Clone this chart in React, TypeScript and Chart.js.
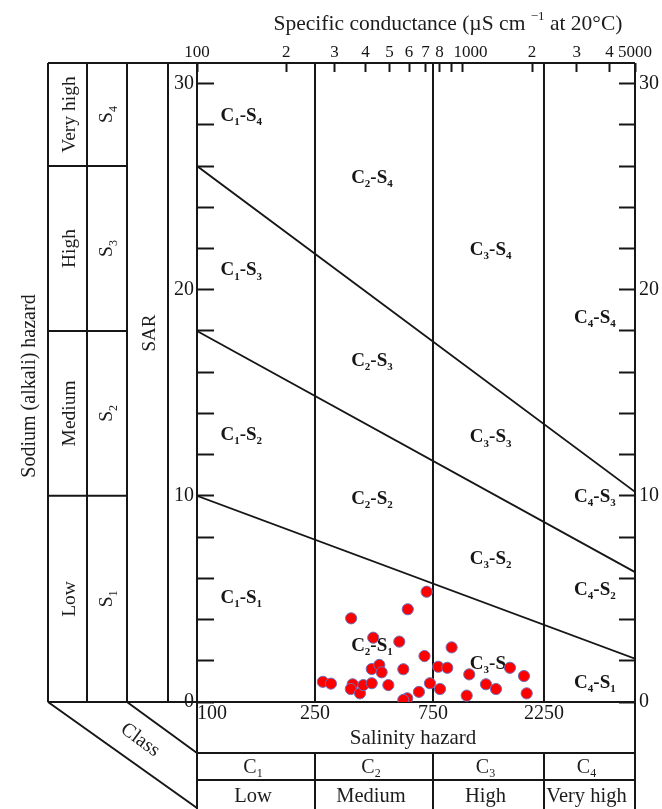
import React, { useEffect, useRef } from 'react';
import { Chart, registerables, LogarithmicScale } from 'chart.js';

// ---------------- data ----------------
// water samples: electrical conductivity (µS/cm) and SAR
const sampleEC = [707, 593, 350, 430, 548, 693, 424, 455, 465, 569, 269, 290, 355, 349, 380, 392, 424, 495, 729, 658, 590, 569, 902, 790, 864, 804, 1074, 1047, 1267, 1399, 1607, 1846, 1896];
const sampleSAR = [5.35, 4.5, 4.06, 3.12, 2.93, 2.23, 1.6, 1.8, 1.44, 1.59, 0.98, 0.89, 0.86, 0.63, 0.42, 0.82, 0.91, 0.82, 0.91, 0.49, 0.18, 0.1, 2.65, 1.71, 1.66, 0.63, 1.34, 0.31, 0.86, 0.63, 1.66, 1.26, 0.42];

const ecLimits = [100, 5000];
const sarLimits = [0, 31];
const salinityClassBounds = [250, 750, 2250];

// sodium hazard boundary lines: SAR at EC = 100 and EC = 5000
const lineS1S2 = [10, 2.1];
const lineS2S3 = [18, 6.3];
const lineS3S4 = [26, 10.2];

const topTickValues = [100, 200, 300, 400, 500, 600, 700, 800, 900, 1000, 2000, 3000, 4000, 5000];
const topTickLabels = ['100', '2', '3', '4', '5', '6', '7', '8', '', '    1000', '2', '3', '4', '5000'];
const bottomTickValues = [100, 250, 750, 2250, 5000];
const bottomTickLabels = ['100', '250', '750', '2250', ''];
const sarTickValues = [0, 2, 4, 6, 8, 10, 12, 14, 16, 18, 20, 22, 24, 26, 28, 30];
const sarLabelValues = [0, 10, 20, 30];

const classNames = ['Low', 'Medium', 'High', 'Very high'];
const classNumbers = ['1', '2', '3', '4'];

// region label anchors (EC of label start for C1..C4; SAR per S1..S4)
const regionLabelEC = [120, 350, 1080, 2930];
const regionLabelSAR = [
  [5.1, 13.0, 21.0, 28.5],
  [2.8, 9.9, 16.6, 25.5],
  [1.9, 7.0, 12.9, 22.0],
  [1.0, 5.5, 10.0, 18.7],
];

// --------------- styling ---------------
const INK = '#161616';
const FONT = '"Liberation Serif", "Times New Roman", serif';

// The original diagram's salinity axis is a hand-drawn log axis, log-spaced within each class.
const axisKnotEC = [100, 250, 750, 2250, 5000];
const axisKnotFraction = [0, 0.2694, 0.5388, 0.7922, 1];

function ecToFraction(v: number) {
  const k = axisKnotEC, f = axisKnotFraction;
  for (let i = 0; i < k.length - 1; i++) {
    if (v <= k[i + 1] || i === k.length - 2) {
      const t = (Math.log10(v) - Math.log10(k[i])) / (Math.log10(k[i + 1]) - Math.log10(k[i]));
      return f[i] + t * (f[i + 1] - f[i]);
    }
  }
  return 1;
}
function fractionToEc(d: number) {
  const k = axisKnotEC, f = axisKnotFraction;
  for (let i = 0; i < k.length - 1; i++) {
    if (d <= f[i + 1] || i === k.length - 2) {
      const t = (d - f[i]) / (f[i + 1] - f[i]);
      return Math.pow(10, Math.log10(k[i]) + t * (Math.log10(k[i + 1]) - Math.log10(k[i])));
    }
  }
  return k[k.length - 1];
}

class SalinityScale extends (LogarithmicScale as any) {
  static id = 'salinity';
  static defaults = {};
  getPixelForValue(value: any) {
    if (value === undefined || value === null || isNaN(value)) return NaN;
    return (this as any).getPixelForDecimal(ecToFraction(value));
  }
  getValueForPixel(pixel: number) {
    return fractionToEc((this as any).getDecimalForPixel(pixel));
  }
}

Chart.register(...registerables, SalinityScale as any);

type Part = { t: string; k?: 'sub' | 'sup' };

function drawParts(ctx: CanvasRenderingContext2D, parts: Part[], x: number, y: number, size: number, weight: string, align: 'left' | 'center') {
  const small = Math.round(size * 0.6);
  const fontFor = (k?: string) => `${weight} ${k ? small : size}px ${FONT}`;
  let w = 0;
  for (const p of parts) {
    ctx.font = fontFor(p.k);
    w += ctx.measureText(p.t).width;
  }
  let cx = align === 'center' ? x - w / 2 : x;
  ctx.textAlign = 'left';
  ctx.textBaseline = 'alphabetic';
  const base = y + size * 0.33;
  for (const p of parts) {
    ctx.font = fontFor(p.k);
    const dy = p.k === 'sub' ? size * 0.22 : p.k === 'sup' ? -size * 0.45 : 0;
    ctx.fillText(p.t, cx, base + dy);
    cx += ctx.measureText(p.t).width;
  }
}

function drawRotated(ctx: CanvasRenderingContext2D, angle: number, x: number, y: number, fn: () => void) {
  ctx.save();
  ctx.translate(x, y);
  ctx.rotate(angle);
  fn();
  ctx.restore();
}

const diagramPlugin = {
  id: 'usslDiagram',
  beforeDatasetsDraw(chart: any) {
    const ctx: CanvasRenderingContext2D = chart.ctx;
    const xs = chart.scales.x;
    const ys = chart.scales.y;
    const { left, right, top, bottom } = chart.chartArea;
    const line = (x1: number, y1: number, x2: number, y2: number) => {
      ctx.beginPath();
      ctx.moveTo(x1, y1);
      ctx.lineTo(x2, y2);
      ctx.stroke();
    };
    ctx.save();
    ctx.strokeStyle = INK;
    ctx.fillStyle = INK;
    ctx.lineWidth = 2;

    // class boundary verticals inside the plot
    const boundPx = salinityClassBounds.map((v) => xs.getPixelForValue(v));
    boundPx.forEach((px) => line(px, top, px, bottom));

    // region labels
    regionLabelEC.forEach((ec, ci) => {
      regionLabelSAR[ci].forEach((sar, si) => {
        drawParts(ctx, [{ t: 'C' }, { t: classNumbers[ci], k: 'sub' }, { t: '-' }, { t: 'S' }, { t: classNumbers[si], k: 'sub' }],
          xs.getPixelForValue(ec), ys.getPixelForValue(sar), 19, 'bold', 'left');
      });
    });

    // ---- frame ----
    const tableLeft = 48, col1 = 87, col2 = 127, col3 = 168;
    const rowA = 753, rowB = 780, pageBottom = 809;
    line(tableLeft, top, right, top);
    line(tableLeft, bottom, right, bottom);
    line(left, top, left, pageBottom);
    line(right, top, right, pageBottom);
    [tableLeft, col1, col2, col3].forEach((cx) => line(cx, top, cx, bottom));
    // sodium class dividers in the left table
    const sodiumBounds = [lineS1S2[0], lineS2S3[0], lineS3S4[0]];
    sodiumBounds.forEach((s) => {
      const py = ys.getPixelForValue(s);
      line(tableLeft, py, col2, py);
    });
    // bottom table
    line(left, rowA, right, rowA);
    line(left, rowB, right, rowB);
    boundPx.forEach((px) => line(px, rowA, px, pageBottom));
    // class diagonals
    line(tableLeft, bottom, left, pageBottom - 1);
    line(col2, bottom, left, rowA);

    // ---- texts ----
    ctx.fillStyle = '#1c1c1c';
    // title
    drawParts(ctx, [{ t: 'Specific conductance (µS cm ' }, { t: '−1', k: 'sup' }, { t: ' at 20°C)' }], 448, 23, 21.5, 'normal', 'center');
    // y title
    drawRotated(ctx, -Math.PI / 2, 28, 386, () => drawParts(ctx, [{ t: 'Sodium (alkali) hazard' }], 0, 0, 20, 'normal', 'center'));
    // left table columns
    const rowEdges = [bottom, ...sodiumBounds.map((s) => ys.getPixelForValue(s)), top];
    for (let i = 0; i < 4; i++) {
      const cy = (rowEdges[i] + rowEdges[i + 1]) / 2;
      drawRotated(ctx, -Math.PI / 2, (tableLeft + col1) / 2 + 1, cy, () => drawParts(ctx, [{ t: classNames[i] }], 0, 0, 19.5, 'normal', 'center'));
      drawRotated(ctx, -Math.PI / 2, (col1 + col2) / 2 - 1, cy, () => drawParts(ctx, [{ t: 'S' }, { t: classNumbers[i], k: 'sub' }], 0, 0, 19.5, 'normal', 'center'));
    }
    drawRotated(ctx, -Math.PI / 2, (col2 + col3) / 2 + 1, 333, () => drawParts(ctx, [{ t: 'SAR' }], 0, 0, 19, 'normal', 'center'));
    // Class diagonal label
    drawRotated(ctx, Math.atan2(rowA - bottom, left - col2), 141, 739, () => drawParts(ctx, [{ t: 'Class' }], 0, 0, 20, 'normal', 'center'));
    // bottom table
    drawParts(ctx, [{ t: 'Salinity hazard' }], 413, 737, 21, 'normal', 'center');
    const colEdges = [left, ...boundPx, right];
    for (let i = 0; i < 4; i++) {
      const cx = (colEdges[i] + colEdges[i + 1]) / 2 - 3;
      drawParts(ctx, [{ t: 'C' }, { t: classNumbers[i], k: 'sub' }], cx, 766, 20, 'normal', 'center');
      drawParts(ctx, [{ t: classNames[i] }], cx, 795, 20.5, 'normal', 'center');
    }
    ctx.restore();
  },
};

const sideFont = { family: FONT, size: 20 };
const topFont = { family: FONT, size: 17 };

function sarTicks(s: any) {
  s.ticks = sarTickValues.map((v) => ({ value: v }));
}
const sarLabel = (v: any) => (sarLabelValues.includes(Number(v)) ? String(v) : '');

export default function App() {
  const ref = useRef<HTMLCanvasElement>(null);
  useEffect(() => {
    const canvas = ref.current;
    if (!canvas) return;
    const lineDs = (l: number[]) => ({
      type: 'scatter',
      data: [{ x: ecLimits[0], y: l[0] }, { x: ecLimits[1], y: l[1] }],
      showLine: true,
      borderColor: INK,
      borderWidth: 1.8,
      pointRadius: 0,
      fill: false,
      order: 1,
    });
    const chart = new Chart(canvas, {
      type: 'scatter',
      data: {
        datasets: [
          {
            label: 'Samples',
            data: sampleEC.map((ec, i) => ({ x: ec, y: sampleSAR[i] })),
            backgroundColor: '#ff0000',
            borderColor: '#6f6fb8',
            borderWidth: 1,
            pointRadius: 5.6,
            order: 0,
          },
          lineDs(lineS3S4),
          lineDs(lineS2S3),
          lineDs(lineS1S2),
        ] as any,
      },
      options: {
        responsive: false,
        animation: false,
        devicePixelRatio: 1,
        events: [],
        layout: { padding: { left: 167, right: 0, top: 33, bottom: 0 } },
        plugins: { legend: { display: false }, tooltip: { enabled: false }, title: { display: false } },
        scales: {
          x: {
            type: 'salinity',
            position: 'bottom',
            min: ecLimits[0],
            max: ecLimits[1],
            afterBuildTicks: (s: any) => { s.ticks = bottomTickValues.map((v) => ({ value: v })); },
            afterFit: (s: any) => { s.height = 107; },
            border: { display: false },
            grid: { display: false, drawTicks: false },
            ticks: {
              autoSkip: false, maxRotation: 0, minRotation: 0, align: 'inner', padding: 0, color: INK, font: sideFont,
              callback: (v: any) => bottomTickLabels[bottomTickValues.indexOf(Number(v))] ?? '',
            },
          },
          x2: {
            type: 'salinity',
            position: 'top',
            min: ecLimits[0],
            max: ecLimits[1],
            afterBuildTicks: (s: any) => { s.ticks = topTickValues.map((v) => ({ value: v })); },
            afterFit: (s: any) => { s.height = 30; },
            border: { display: false },
            grid: { display: true, drawOnChartArea: false, drawTicks: true, tickLength: -9, tickWidth: 2, tickColor: INK, color: INK },
            ticks: {
              autoSkip: false, maxRotation: 0, minRotation: 0, padding: 9, color: INK, font: topFont,
              callback: (v: any) => topTickLabels[topTickValues.indexOf(Number(v))] ?? '',
            },
          },
          y: {
            type: 'linear',
            position: 'left',
            min: sarLimits[0],
            max: sarLimits[1],
            afterBuildTicks: sarTicks,
            afterFit: (s: any) => { s.width = 30; },
            border: { display: false },
            grid: { display: true, drawOnChartArea: false, drawTicks: true, tickLength: -17, tickWidth: 2, tickColor: INK, color: INK },
            ticks: { autoSkip: false, padding: 20, color: INK, font: sideFont, callback: sarLabel },
          },
          y2: {
            type: 'linear',
            position: 'right',
            min: sarLimits[0],
            max: sarLimits[1],
            afterBuildTicks: sarTicks,
            afterFit: (s: any) => { s.width = 27; },
            border: { display: false },
            grid: { display: true, drawOnChartArea: false, drawTicks: true, tickLength: -16, tickWidth: 2, tickColor: INK, color: INK },
            ticks: { autoSkip: false, padding: 20, color: INK, font: sideFont, callback: sarLabel },
          },
        },
      } as any,
      plugins: [diagramPlugin as any],
    });
    return () => chart.destroy();
  }, []);
  return (
    <div style={{ position: 'absolute', left: 0, top: 0, width: 662, height: 809, background: '#ffffff' }}>
      <canvas ref={ref} width={662} height={809} style={{ display: 'block', width: 662, height: 809 }} />
    </div>
  );
}
